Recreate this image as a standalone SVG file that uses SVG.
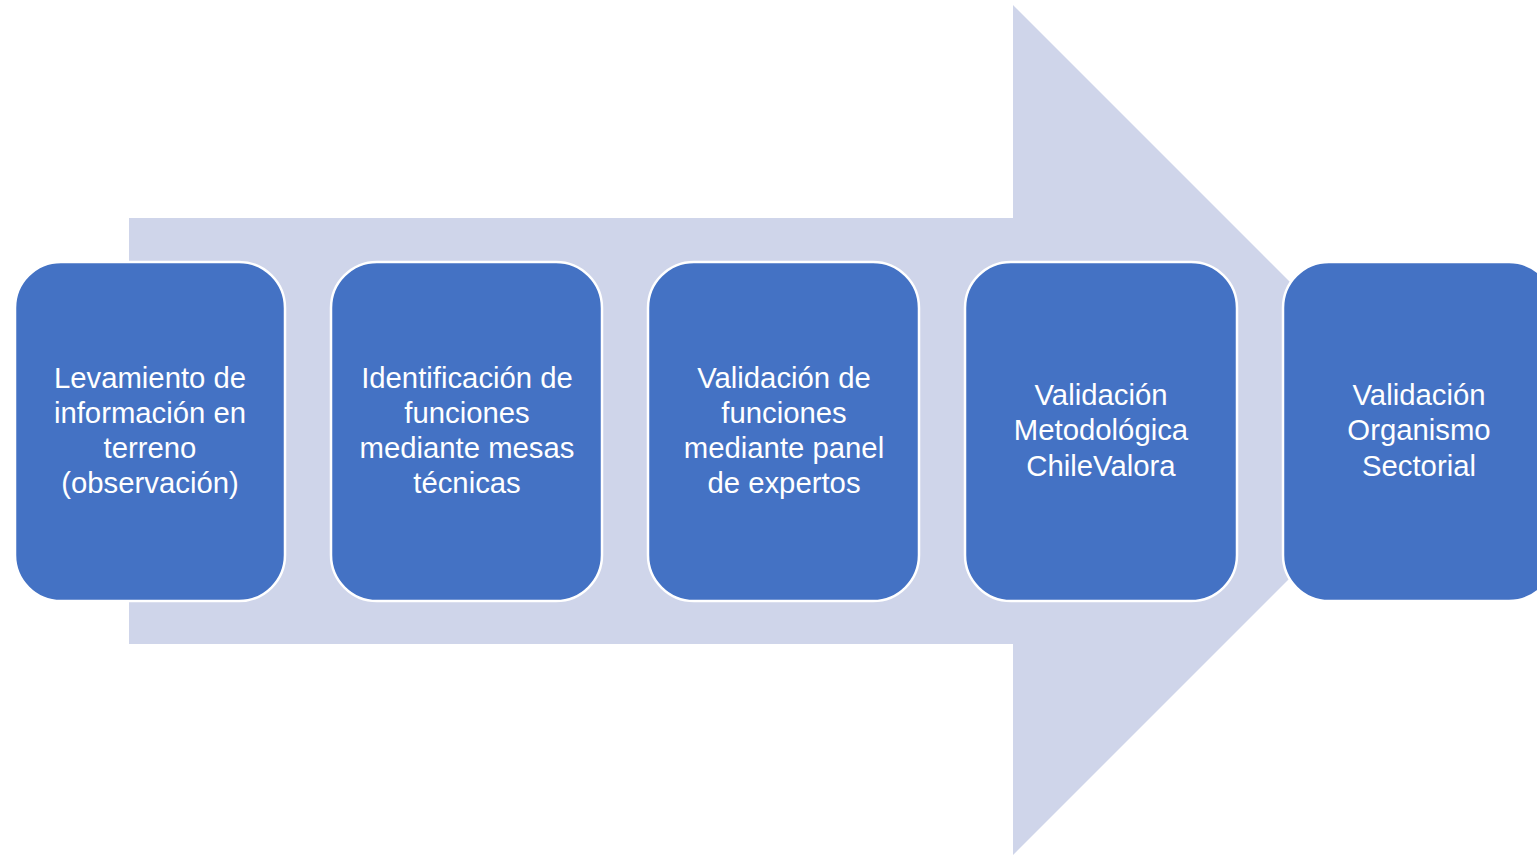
<svg xmlns="http://www.w3.org/2000/svg" width="1537" height="856" viewBox="0 0 1537 856">
<style>
.box{fill:#4472C4;stroke:#FFFFFF;stroke-width:2.5}
.t{font-family:"Liberation Sans",Arial,sans-serif;font-size:29.3px;fill:#FFFFFF;text-anchor:middle}
</style>
<rect width="1537" height="856" fill="#FFFFFF"/>
<g id="arrow">
<polygon points="129,218 1013,218 1013,5 1438,430 1013,855 1013,644 129,644" fill="#CFD5EA"/>
</g>
<g id="connectors"></g>
<g id="node1">
<rect class="box" x="15" y="262" width="270" height="339" rx="46"/>
<text class="t" x="150" y="388">Levamiento de</text>
<text class="t" x="150" y="423">información en</text>
<text class="t" x="150" y="458">terreno</text>
<text class="t" x="150" y="493">(observación)</text>
</g>
<g id="node2">
<rect class="box" x="331" y="262" width="271" height="339" rx="46"/>
<text class="t" x="467" y="388">Identificación de</text>
<text class="t" x="467" y="423">funciones</text>
<text class="t" x="467" y="458">mediante mesas</text>
<text class="t" x="467" y="493">técnicas</text>
</g>
<g id="node3">
<rect class="box" x="648" y="262" width="271" height="339" rx="46"/>
<text class="t" x="784" y="388">Validación de</text>
<text class="t" x="784" y="423">funciones</text>
<text class="t" x="784" y="458">mediante panel</text>
<text class="t" x="784" y="493">de expertos</text>
</g>
<g id="node4">
<rect class="box" x="965" y="262" width="272" height="339" rx="46"/>
<text class="t" x="1101" y="405">Validación</text>
<text class="t" x="1101" y="440">Metodológica</text>
<text class="t" x="1101" y="476">ChileValora</text>
</g>
<g id="node5">
<rect class="box" x="1283" y="262" width="272" height="339" rx="46"/>
<text class="t" x="1419" y="405">Validación</text>
<text class="t" x="1419" y="440">Organismo</text>
<text class="t" x="1419" y="476">Sectorial</text>
</g>
</svg>
